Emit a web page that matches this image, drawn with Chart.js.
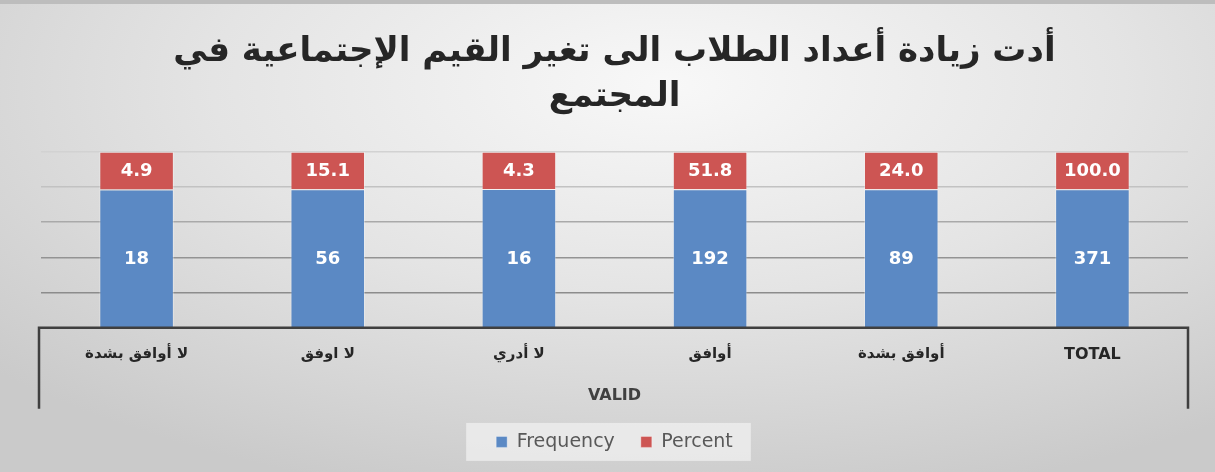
<!DOCTYPE html>
<html>
<head>
<meta charset="utf-8">
<script src="https://cdn.jsdelivr.net/npm/chart.js@4.4.1/dist/chart.umd.min.js"></script>
<style>
    html, body { margin: 0; padding: 0; }
    body {
        width: 1215px;
        height: 472px;
        overflow: hidden;
        background: radial-gradient(ellipse 75% 90% at 55% 18%, #f8f8f8 0%, #e4e4e4 50%, #cacaca 100%);
    }
    .wrap {
        position: absolute;
        left: 0; top: 0;
        width: 1215px;
        height: 472px;
        border-top: 4px solid #bdbdbd;
        box-sizing: border-box;
    }
    canvas { display: block; }
</style>
</head>
<body>
<div class="wrap">
    <canvas id="freqChart" width="1215" height="468"></canvas>
</div>
<script>
// Chart data
const titleLines = ['أدت زيادة أعداد الطلاب الى تغير القيم الإجتماعية في', 'المجتمع'];
const categories = ['لا أوافق بشدة', 'لا اوفق', 'لا أدري', 'أوافق', 'أوافق بشدة', 'TOTAL'];
const groupLabel = 'VALID';
const frequency = [18, 56, 16, 192, 89, 371];
const percent = [4.9, 15.1, 4.3, 51.8, 24.0, 100.0];
const gridTicks = [0, 20, 40, 60, 80, 100];

const BLUE = '#5b89c4';
const RED = '#cd5553';
const ARABIC_FONT = '"DejaVu Sans", sans-serif';

// 100% stacked: each bar split by share of its own total
const freqShare = frequency.map((f, i) => f / (f + percent[i]) * 100);
const pctShare = percent.map((p, i) => p / (frequency[i] + p) * 100);

// Value labels inside bar segments
const valueLabels = {
    id: 'valueLabels',
    afterDatasetsDraw(chart) {
        const ctx = chart.ctx;
        ctx.save();
        ctx.fillStyle = '#ffffff';
        ctx.font = 'bold 18px "DejaVu Sans", sans-serif';
        ctx.textAlign = 'center';
        ctx.textBaseline = 'middle';
        chart.data.datasets.forEach((ds, di) => {
            const meta = chart.getDatasetMeta(di);
            meta.data.forEach((el, i) => {
                const raw = di === 0 ? String(frequency[i]) : percent[i].toFixed(1);
                ctx.fillText(raw, el.x, (el.y + el.base) / 2 + 1);
            });
        });
        ctx.restore();
    }
};

// Excel-like box around the category axis + legend background
const axisBox = {
    id: 'axisBox',
    beforeDraw(chart) {
        const legend = chart.legend;
        if (!legend || !legend.legendHitBoxes.length) return;
        const boxes = legend.legendHitBoxes;
        const first = boxes[0];
        const last = boxes[boxes.length - 1];
        const mid = first.top + first.height / 2;
        const ctx = chart.ctx;
        ctx.save();
        ctx.fillStyle = 'rgba(240, 240, 240, 0.75)';
        ctx.fillRect(first.left - 30, mid - 19, last.left + last.width - first.left + 48, 38);
        ctx.restore();
    },
    afterDraw(chart) {
        const area = chart.chartArea;
        const ctx = chart.ctx;
        const left = area.left - 2;
        const right = area.right;
        const bottom = area.bottom + 81;
        ctx.save();
        ctx.strokeStyle = '#3f3f3f';
        ctx.lineWidth = 2.5;
        ctx.beginPath();
        ctx.moveTo(left, bottom);
        ctx.lineTo(left, area.bottom);
        ctx.lineTo(right, area.bottom);
        ctx.lineTo(right, bottom);
        ctx.stroke();
        ctx.restore();
    }
};

const gridColors = ['rgba(0,0,0,0)', '#8c8c8c', '#939393', '#a9a9a9', '#c2c2c2', '#d2d2d2'];

new Chart(document.getElementById('freqChart'), {
    type: 'bar',
    data: {
        labels: categories,
        datasets: [
            { label: 'Frequency', data: freqShare, backgroundColor: BLUE, borderColor: 'rgba(255,255,255,0.35)', borderWidth: 1 },
            { label: 'Percent', data: pctShare, backgroundColor: RED, borderColor: 'rgba(255,255,255,0.35)', borderWidth: 1 }
        ]
    },
    options: {
        responsive: false,
        animation: false,
        layout: { padding: { left: 41, right: 27, top: 0, bottom: 10.6 } },
        datasets: { bar: { barPercentage: 0.39, categoryPercentage: 1 } },
        plugins: {
            title: {
                display: true,
                text: titleLines,
                color: '#262626',
                font: { family: ARABIC_FONT, size: 34, weight: 'bold', lineHeight: 1.32 },
                padding: { top: 26, bottom: 32 }
            },
            legend: {
                position: 'bottom',
                labels: {
                    boxWidth: 11,
                    boxHeight: 11,
                    padding: 26,
                    color: '#595959',
                    font: { family: '"DejaVu Sans", sans-serif', size: 19, lineHeight: 1.2 }
                }
            },
            tooltip: { enabled: false }
        },
        scales: {
            x: {
                stacked: true,
                afterFit: (scale) => { scale.height = 78.6; },
                grid: { display: false, drawTicks: false },
                border: { display: false },
                ticks: {
                    color: '#262626',
                    padding: 17,
                    maxRotation: 0,
                    font: (c) => c.index === categories.length - 1
                        ? { family: '"DejaVu Sans", sans-serif', size: 16, weight: 'bold' }
                        : { family: ARABIC_FONT, size: 15, weight: 'bold' }
                },
                title: {
                    display: true,
                    text: groupLabel,
                    color: '#404040',
                    font: { family: '"DejaVu Sans", sans-serif', size: 16, weight: 'bold', lineHeight: 1.2 },
                    padding: { top: 0, bottom: 1 }
                }
            },
            y: {
                stacked: true,
                min: gridTicks[0],
                max: gridTicks[gridTicks.length - 1],
                afterBuildTicks: (scale) => { scale.ticks = gridTicks.map(v => ({ value: v })); },
                ticks: { display: false },
                border: { display: false },
                grid: {
                    drawTicks: false,
                    lineWidth: 1.5,
                    color: (c) => gridColors[c.index] || '#a0a0a0'
                }
            }
        }
    },
    plugins: [axisBox, valueLabels]
});
</script>
</body>
</html>
